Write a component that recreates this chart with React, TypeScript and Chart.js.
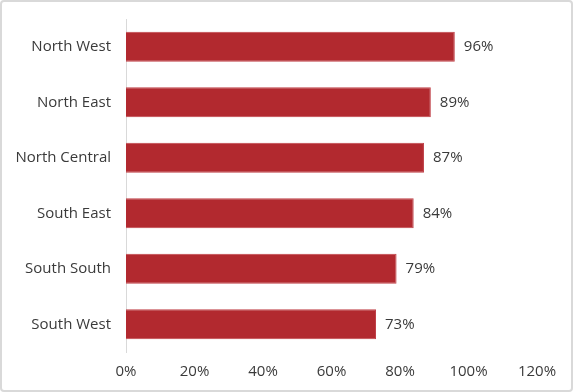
import React, { useEffect, useRef } from "react";
import { Chart, registerables } from "chart.js";

Chart.register(...registerables);

const categories = ["North West", "North East", "North Central", "South East", "South South", "South West"];
const values = [96, 89, 87, 84, 79, 73];
const xTicks = [0, 20, 40, 60, 80, 100, 120];

const FONT = "'Open Sans', sans-serif";
const TEXT = "#3a3a3a";

const valueLabels = {
  id: "valueLabels",
  afterDatasetsDraw(chart: any) {
    const ctx = chart.ctx;
    const meta = chart.getDatasetMeta(0);
    ctx.save();
    ctx.font = `15px ${FONT}`;
    ctx.fillStyle = TEXT;
    ctx.textAlign = "left";
    ctx.textBaseline = "middle";
    meta.data.forEach((bar: any, i: number) => {
      ctx.fillText(values[i] + "%", bar.x + 9, bar.y);
    });
    ctx.restore();
  },
};

export default function App() {
  const ref = useRef<HTMLCanvasElement>(null);
  useEffect(() => {
    document.body.style.margin = "0";
    const chart = new Chart(ref.current!, {
      type: "bar",
      data: {
        labels: categories,
        datasets: [
          {
            data: values,
            backgroundColor: "#B2292F",
            borderColor: "#C04048",
            borderWidth: 1,
            barPercentage: 1,
            categoryPercentage: 0.54,
          },
        ],
      },
      options: {
        indexAxis: "y",
        animation: false,
        responsive: false,
        maintainAspectRatio: false,
        layout: { padding: { top: 19, right: 36, left: 0, bottom: 0 } },
        plugins: { legend: { display: false }, tooltip: { enabled: false } },
        scales: {
          x: {
            min: 0,
            max: 120,
            afterBuildTicks: (scale: any) => {
              scale.ticks = xTicks.map((v) => ({ value: v }));
            },
            afterFit: (scale: any) => {
              scale.height = 40;
              scale.paddingLeft = 0;
              scale.paddingRight = 0;
            },
            grid: { display: false, drawTicks: false },
            border: { display: false },
            ticks: {
              padding: 11,
              color: TEXT,
              font: { family: FONT, size: 15 },
              callback: (v: any) => v + "%",
            },
          },
          y: {
            afterFit: (scale: any) => {
              scale.width = 126;
              scale.paddingTop = 0;
              scale.paddingBottom = 0;
            },
            grid: { display: false, drawTicks: false },
            border: { display: true, color: "#d9d9d9", width: 1 },
            ticks: {
              padding: 15,
              color: TEXT,
              font: { family: FONT, size: 15 },
            },
          },
        },
      },
      plugins: [valueLabels],
    });
    return () => chart.destroy();
  }, []);
  return (
    <div style={{ position: "relative", width: 573, height: 392, background: "#fff" }}>
      <canvas ref={ref} width={573} height={392} style={{ position: "absolute", left: 0, top: 0 }} />
      <div
        style={{
          position: "absolute",
          left: 0,
          top: 0,
          width: 573,
          height: 392,
          boxSizing: "border-box",
          border: "2px solid #d9d9d9",
          borderRadius: 4,
          pointerEvents: "none",
        }}
      />
    </div>
  );
}
